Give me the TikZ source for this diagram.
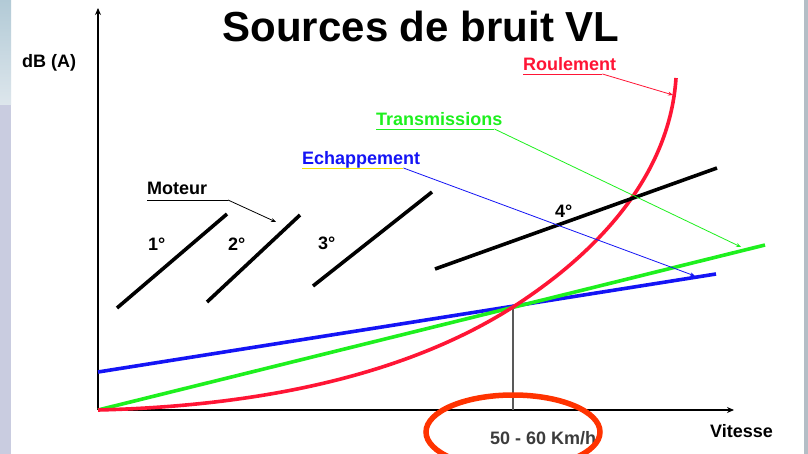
\documentclass[tikz,border=0pt]{standalone}
\usepackage{fontspec}
\setmainfont{Liberation Sans}
\usetikzlibrary{arrows.meta}

\definecolor{roulred}{HTML}{FF1535}
\definecolor{transgreen}{HTML}{1EF01E}
\definecolor{echblue}{HTML}{1414F5}
\definecolor{ringred}{HTML}{FF3300}
\definecolor{markyellow}{HTML}{F2E400}
\definecolor{kmgray}{HTML}{3C3C3C}
\definecolor{stripsky}{HTML}{B2CAD6}
\definecolor{stripfog}{HTML}{DDE6EC}
\definecolor{striplav}{HTML}{C9CCE0}
\definecolor{edgegray}{HTML}{B4BEC6}

\begin{document}
\begin{tikzpicture}[x=1pt,y=-1pt,
  lbl/.style={font=\fontsize{18}{21}\selectfont\bfseries, inner sep=0pt, anchor=base west},
  curve/.style={line width=3.6pt},
  callout/.style={line width=0.8pt, -{Stealth[length=5pt,width=4pt]}},
  axis/.style={line width=1.8pt, -{Stealth[length=7pt,width=6pt]}}]
  \useasboundingbox (0,0) rectangle (808,454);
  \fill[white] (0,0) rectangle (808,454);
  % side strips
  \shade[top color=stripsky, bottom color=stripfog] (0,0) rectangle (11,105);
  \fill[striplav] (0,105) rectangle (11,454);
  \fill[edgegray] (804,0) rectangle (808,454);

  % axes
  \coordinate (O) at (98,410);
  \coordinate (ytop) at (98,8);
  \coordinate (xend) at (734,410);
  \draw[axis] (O) -- (ytop);
  \draw[axis] (O) -- (xend);
  \coordinate (P) at (513,307);
  \draw[gray!70!black, line width=1.2pt] (P) -- (513,410);

  \node[font=\fontsize{42}{48}\selectfont\bfseries, inner sep=0pt] (title) at (421,26) {Sources de bruit VL};
  \node[lbl] (ylbl) at (22,68) {dB (A)};
  \node[lbl] (xlbl) at (710,437) {Vitesse};
  \node[lbl, text=kmgray] (speed) at (490,444) {50 - 60 Km/h};

  % sources
  \coordinate (roultop) at (676,78);
  \draw[echblue, curve] (98,372) -- (716,274);
  \draw[transgreen, curve] (O) -- (765,245);
  \draw[roulred, curve] (O) .. controls (300,405) and (430,360) .. (P)
    .. controls (605,248) and (670,170) .. (roultop);

  % gears
  \draw[curve] (117,308) -- (227,214);
  \draw[curve] (207,302) -- (300,215);
  \draw[curve] (313,286) -- (432,192);
  \draw[curve] (435,269) -- (717,168);
  \node[lbl] (g1) at (148,251) {1°};
  \node[lbl] (g2) at (228,251) {2°};
  \node[lbl] (g3) at (318,250) {3°};
  \node[lbl] (g4) at (555,218) {4°};

  % labels
  \node[lbl] (mot) at (147,195) {Moteur};
  \node[lbl, text=roulred] (roul) at (523,71) {Roulement};
  \node[lbl, text=transgreen] (trans) at (376,126) {Transmissions};
  \node[lbl, text=echblue] (ech) at (302,165) {Echappement};

  \coordinate (motbend) at (228,200);
  \coordinate (motend) at (276,222);
  \coordinate (roulend) at (673,95);
  \coordinate (transend) at (741,247);
  \coordinate (echend) at (695,276);

  \draw[line width=0.8pt] ([yshift=-5pt]mot.base west) -- (motbend);
  \draw[callout] (motbend) -- (motend);
  \draw[roulred, line width=0.8pt] ([yshift=-3pt]roul.base west) -- ([xshift=-14pt,yshift=-3pt]roul.base east);
  \draw[roulred, callout] ([xshift=-14pt,yshift=-3pt]roul.base east) -- (roulend);
  \draw[transgreen, line width=0.8pt] ([yshift=-3pt]trans.base west) -- ([xshift=-8pt,yshift=-3pt]trans.base east);
  \draw[transgreen, callout] ([xshift=-8pt,yshift=-3pt]trans.base east) -- (transend);
  \draw[markyellow, line width=0.9pt] ([yshift=-3pt]ech.base west) -- ([xshift=-17pt,yshift=-3pt]ech.base east);
  \draw[echblue, callout] ([xshift=-17pt,yshift=-3pt]ech.base east) -- (echend);

  % speed range ring
  \draw[ringred, line width=5.5pt] (513,432) ellipse [x radius=87, y radius=37];
\end{tikzpicture}
\end{document}
